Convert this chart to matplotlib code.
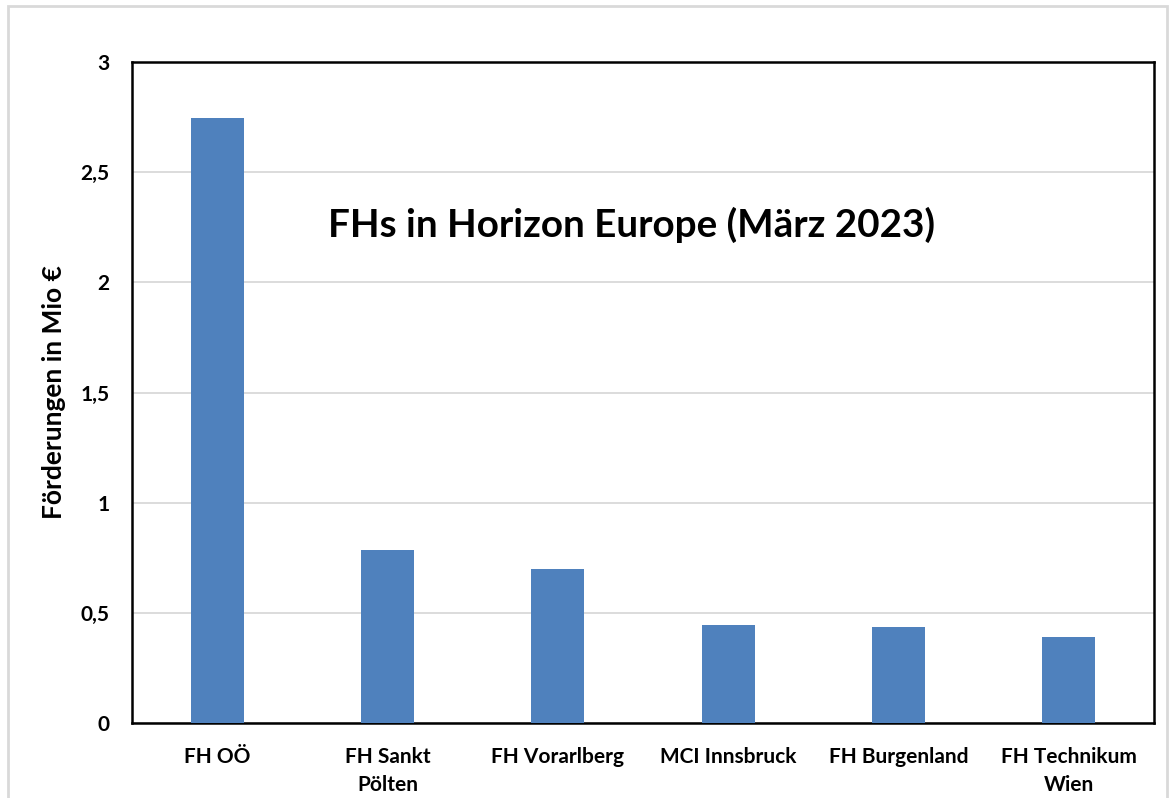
import matplotlib
matplotlib.use("Agg")
import matplotlib.pyplot as plt
from matplotlib.patches import Rectangle

categories = ["FH OÖ", "FH Sankt\nPölten", "FH Vorarlberg", "MCI Innsbruck", "FH Burgenland", "FH Technikum\nWien"]
values = [2.745, 0.785, 0.70, 0.447, 0.437, 0.39]
yticks = [0, 0.5, 1, 1.5, 2, 2.5, 3]
ytick_labels = ["0", "0,5", "1", "1,5", "2", "2,5", "3"]

plt.rcParams['font.family'] = ['Lato', 'DejaVu Sans']

W, H = 1171, 798
fig = plt.figure(figsize=(W/100, H/100), dpi=100)
fig.patches.append(Rectangle((8/W, -0.05), (1167-8)/W, 1.05-6/H, transform=fig.transFigure,
                             fill=False, edgecolor='#d9d9d9', linewidth=2))

ax = fig.add_axes([132/W, 1-723/H, (1154-132)/W, (723-62)/H])
x = list(range(len(categories)))
ax.bar(x, values, width=0.31, color='#4f81bd', zorder=3)
ax.set_xlim(-0.5, len(categories)-0.5)
ax.set_ylim(0, 3)
ax.set_yticks(yticks)
ax.set_yticklabels(ytick_labels, fontsize=15, fontweight='bold')
ax.set_xticks(x)
ax.set_xticklabels(categories, fontsize=15, fontweight='bold', linespacing=1.5)
ax.tick_params(axis='both', length=0)
ax.tick_params(axis='y', pad=16)
ax.tick_params(axis='x', pad=17)
ax.grid(axis='y', color='#d9d9d9', linewidth=1.3, zorder=0)
for s in ax.spines.values():
    s.set_linewidth(1.8)
    s.set_color('black')
ax.text(54/W, 1-392/H, "Förderungen in Mio €", transform=fig.transFigure, rotation=90,
        ha='center', va='center', fontsize=19, fontweight='bold')
ax.text(632/W, 1-225/H, "FHs in Horizon Europe (März 2023)", transform=fig.transFigure,
        ha='center', va='center', fontsize=27.8, fontweight='bold')

fig.savefig("out.png", dpi=100)
